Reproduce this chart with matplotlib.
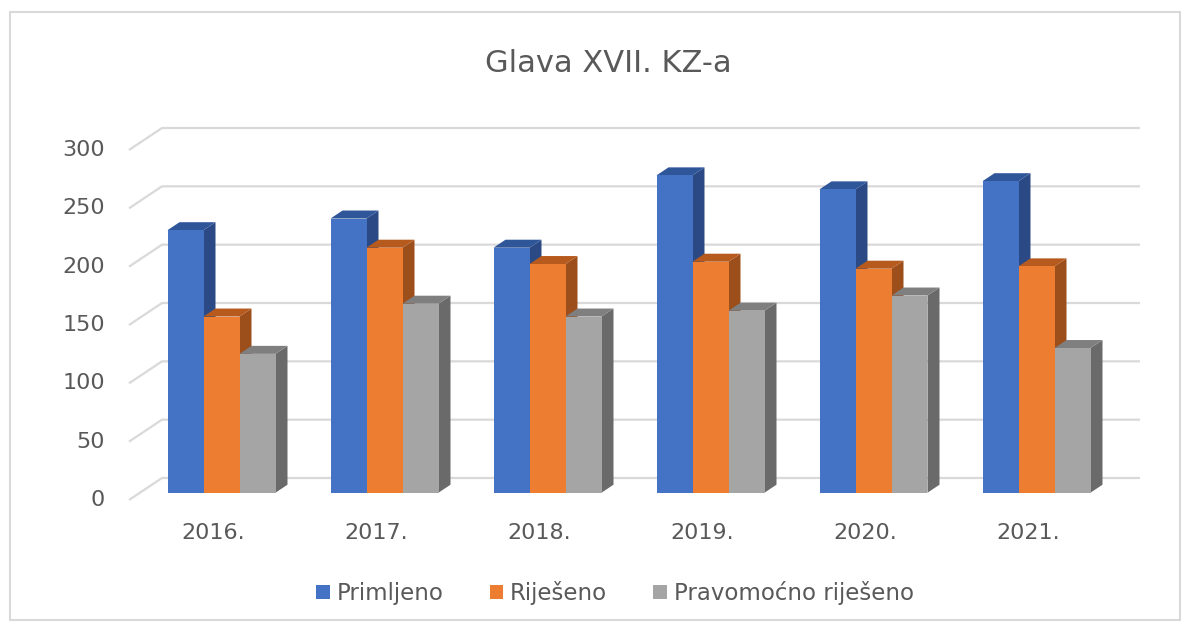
import matplotlib.pyplot as plt
from matplotlib.patches import Polygon, Patch, Rectangle

# data
godine = ['2016.', '2017.', '2018.', '2019.', '2020.', '2021.']
primljeno = [225, 235, 210, 272, 260, 267]
rijeseno = [151, 210, 196, 198, 192, 194]
pravomocno = [119, 162, 151, 156, 169, 124]
serije = ['Primljeno', 'Riješeno', 'Pravomoćno riješeno']
y_ticks = [0, 50, 100, 150, 200, 250, 300]

# front, side, top colour per series
boje = [('#4472C4', '#2B4A85', '#30569A'),
        ('#ED7D31', '#9C4E1B', '#B75A1E'),
        ('#A5A5A5', '#6A6A6A', '#7F7F7F')]

W, H = 1194, 628
plt.rcParams['font.family'] = ['DejaVu Sans']
fig = plt.figure(figsize=(W / 100, H / 100), dpi=100)

# axes placed in pixels: x 120..1150, y 110..510
L, R, T, B = 120, 1150, 110, 510
ax = fig.add_axes([L / W, 1 - B / H, (R - L) / W, (B - T) / H])
px_cat = 163.0          # pixels per category
px_val = 350 / 300.0    # pixels per value unit
x0_pix, y0_pix = 221.5, 492.7
ax.set_xlim((L - x0_pix) / px_cat, (R - x0_pix) / px_cat)
ax.set_ylim((y0_pix - B) / px_val, (y0_pix - T) / px_val)
ax.axis('off')

def off(dx_px, dy_px):
    return dx_px / px_cat, dy_px / px_val

back = off(22, 14.7)
front = off(-11, -7.3)
side = off(12, 8)

grid_c = '#D9D9D9'
txt_c = '#595959'
left, right = -0.5, len(godine) - 0.5
for v in y_ticks:
    xs = [left + front[0], left + back[0], right + back[0]]
    ys = [v + front[1], v + back[1], v + back[1]]
    ax.plot(xs, ys, color=grid_c, lw=1.6, zorder=1, solid_capstyle='butt')
    ax.text(left + front[0] - 24 / px_cat, v + front[1], str(v), ha='right', va='center',
            fontsize=16, color=txt_c, clip_on=False)

bw = 36 / px_cat
podaci = [primljeno, rijeseno, pravomocno]
for i in range(len(godine)):
    for s, vals in enumerate(podaci):
        x = i + (s - 1) * bw
        v = vals[i]
        c_front, c_side, c_top = boje[s]
        xl, xr = x - bw / 2, x + bw / 2
        z = 2 + s
        ax.add_patch(Polygon([(xr, 0), (xr + side[0], side[1]), (xr + side[0], v + side[1]), (xr, v)],
                             closed=True, facecolor=c_side, edgecolor='none', zorder=z))
        ax.add_patch(Polygon([(xl, v), (xr, v), (xr + side[0], v + side[1]), (xl + side[0], v + side[1])],
                             closed=True, facecolor=c_top, edgecolor='none', zorder=z))
        ax.bar(x, v, width=bw, color=c_front, edgecolor='none', zorder=z)
    ax.text(i + front[0] + 3 / px_cat, -34.5, godine[i], ha='center', va='center', fontsize=16,
            color=txt_c, clip_on=False)

fig.text(608 / W, 1 - 64 / H, 'Glava XVII. KZ-a', ha='center', va='center', fontsize=22, color=txt_c)

handles = [Patch(facecolor=boje[k][0], edgecolor='none', label=serije[k]) for k in range(3)]
fig.legend(handles=handles, loc='center', bbox_to_anchor=(615 / W, 1 - 593 / H), ncol=3,
           frameon=False, fontsize=16.5, labelcolor=txt_c, handlelength=0.6, handleheight=0.6,
           columnspacing=2.0, handletextpad=0.3)

fig.patches.append(Rectangle((10 / W, 1 - 620 / H), 1170 / W, 608 / H, transform=fig.transFigure,
                             fill=False, edgecolor='#D9D9D9', lw=1.5))

fig.savefig('out.png', dpi=100)
